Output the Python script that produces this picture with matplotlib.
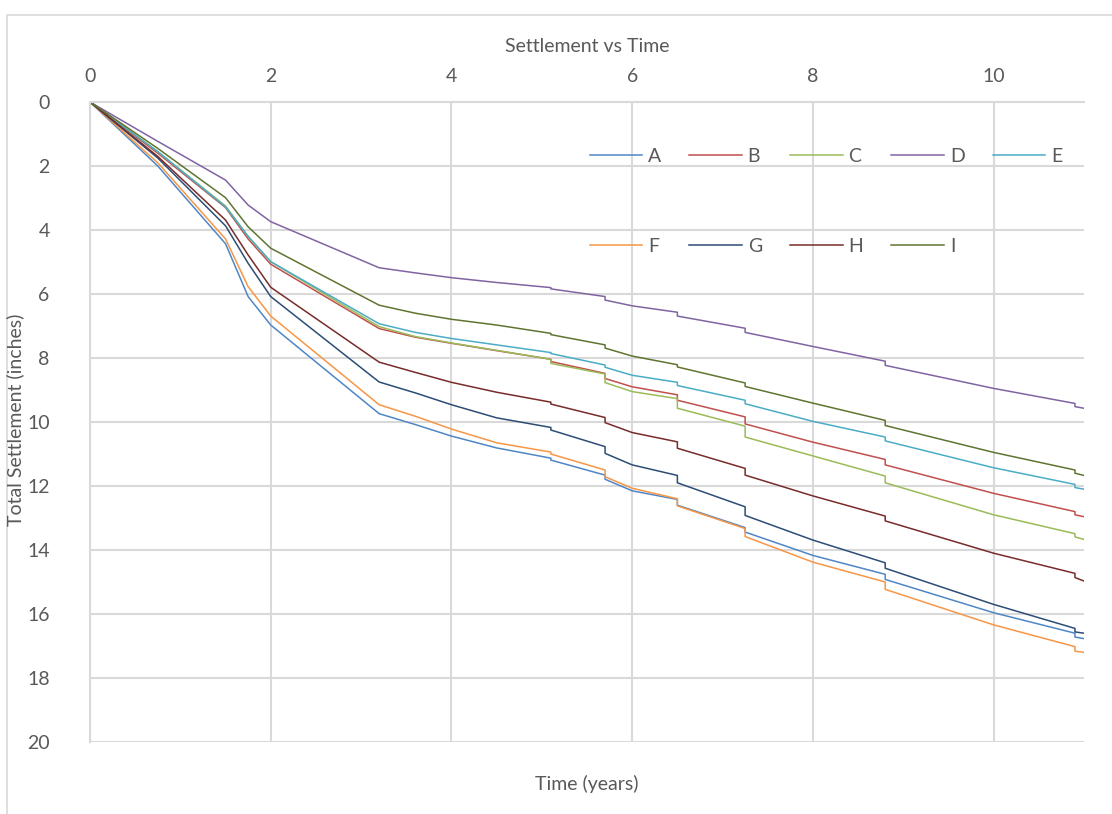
import matplotlib
matplotlib.use("Agg")
import matplotlib.pyplot as plt
from matplotlib.patches import Rectangle

plt.rcParams['font.family'] = ['Lato', 'DejaVu Sans']

# time (years); repeated times are the settlement steps
t = [0, 0.75, 1.5, 1.75, 2, 3.2, 3.6, 4, 4.5, 5.1, 5.1, 5.7, 5.7, 6, 6.5, 6.5,
     7.25, 7.25, 8, 8.8, 8.8, 10, 10.9, 10.9, 11]

A = [0, 2.0, 4.43, 6.08, 6.97, 9.74, 10.08, 10.44, 10.81, 11.13, 11.19, 11.66, 11.79,
     12.15, 12.42, 12.6, 13.3, 13.44, 14.17, 14.76, 14.92, 15.96, 16.6, 16.72, 16.77]
B = [0, 1.6, 3.3, 4.28, 5.07, 7.08, 7.35, 7.54, 7.77, 8.04, 8.11, 8.48, 8.64,
     8.9, 9.15, 9.32, 9.84, 10.06, 10.63, 11.17, 11.34, 12.23, 12.8, 12.9, 12.96]
C = [0, 1.55, 3.25, 4.2, 4.99, 7.02, 7.33, 7.53, 7.76, 8.04, 8.17, 8.5, 8.77,
     9.05, 9.27, 9.57, 10.13, 10.47, 11.06, 11.69, 11.9, 12.9, 13.49, 13.59, 13.67]
D = [0, 1.23, 2.44, 3.22, 3.74, 5.18, 5.34, 5.49, 5.64, 5.8, 5.84, 6.08, 6.19,
     6.37, 6.57, 6.69, 7.07, 7.2, 7.64, 8.1, 8.23, 8.95, 9.42, 9.52, 9.57]
E = [0, 1.55, 3.28, 4.2, 4.99, 6.93, 7.2, 7.39, 7.59, 7.83, 7.86, 8.22, 8.29,
     8.54, 8.76, 8.86, 9.32, 9.43, 9.98, 10.47, 10.59, 11.43, 11.95, 12.05, 12.1]
F = [0, 1.9, 4.28, 5.77, 6.69, 9.46, 9.82, 10.22, 10.65, 10.94, 11.0, 11.5, 11.71,
     12.07, 12.4, 12.62, 13.33, 13.58, 14.38, 15.0, 15.23, 16.34, 17.02, 17.16, 17.2]
G = [0, 1.75, 3.87, 5.04, 6.08, 8.75, 9.09, 9.46, 9.87, 10.17, 10.25, 10.77, 10.98,
     11.34, 11.67, 11.9, 12.65, 12.92, 13.69, 14.4, 14.57, 15.7, 16.45, 16.56, 16.6]
H = [0, 1.7, 3.69, 4.78, 5.79, 8.13, 8.45, 8.76, 9.07, 9.38, 9.44, 9.86, 10.02,
     10.33, 10.62, 10.82, 11.45, 11.66, 12.31, 12.94, 13.09, 14.1, 14.73, 14.86, 14.97]
I = [0, 1.45, 2.99, 3.9, 4.57, 6.35, 6.6, 6.79, 6.97, 7.23, 7.27, 7.59, 7.69,
     7.94, 8.21, 8.28, 8.78, 8.89, 9.41, 9.95, 10.11, 10.95, 11.5, 11.6, 11.67]

names = ['A', 'B', 'C', 'D', 'E', 'F', 'G', 'H', 'I']
series = [A, B, C, D, E, F, G, H, I]
colors = ['#4F86C6', '#C0504D', '#9BBB59', '#8064A2', '#4BACC6',
          '#F79646', '#2C4D75', '#772C2A', '#5F7530']

txt = '#595959'
grid = '#D9D9D9'

fig = plt.figure(figsize=(11.12, 8.14), dpi=100)
# chart border
fig.patches.append(Rectangle((7/1112, -0.1), 1.2, 1 - 15/814 + 0.1, transform=fig.transFigure,
                             fill=False, edgecolor=grid, linewidth=1.2))
ax = fig.add_axes([90/1112, 1 - 742/814, 994/1112, 640/814])

lines = []
for s, n, c in zip(series, names, colors):
    ln, = ax.plot(t, s, color=c, lw=1.1, label=n)
    lines.append(ln)

ax.set_xlim(0, 11)
ax.set_ylim(20, 0)
ax.set_xticks(range(0, 11, 2))
ax.set_yticks(range(0, 21, 2))
ax.xaxis.tick_top()
ax.grid(True, color=grid, lw=1.5)
ax.set_axisbelow(True)
for k in ['right', 'bottom']:
    ax.spines[k].set_visible(False)
for k in ['left', 'top']:
    ax.spines[k].set_color(grid)
    ax.spines[k].set_linewidth(1.5)
ax.tick_params(axis='x', length=0, pad=12, labelsize=14, labelcolor=txt)
ax.tick_params(axis='y', length=0, pad=29, labelsize=14, labelcolor=txt)

fig.text(587/1112, 1 - 47/814, 'Settlement vs Time', ha='center', va='center',
         fontsize=14, color=txt)
fig.text(587/1112, 1 - 784/814, 'Time (years)', ha='center', va='center',
         fontsize=14, color=txt)
fig.text(15/1112, 1 - 420/814, 'Total Settlement (inches)', ha='center', va='center',
         rotation=90, fontsize=14, color=txt)

# legend fills column by column; reorder so rows read A-E, F-I
order = [0, 5, 1, 6, 2, 7, 3, 8, 4]
ax.legend([lines[i] for i in order], [names[i] for i in order],
          loc='upper left', bbox_to_anchor=(0.485, 0.955), ncol=5, frameon=False,
          fontsize=14, labelcolor=txt, handlelength=2.7, handletextpad=0.3,
          columnspacing=1.45, labelspacing=3.75)

fig.savefig('out.png', dpi=100)
